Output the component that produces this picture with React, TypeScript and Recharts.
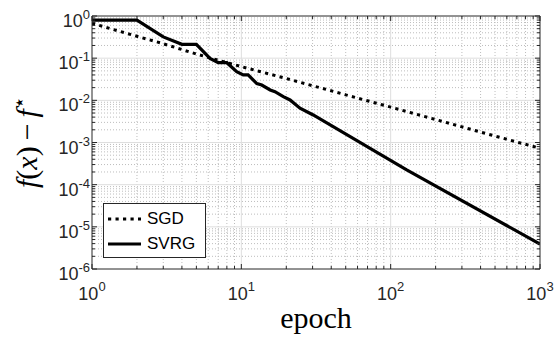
import React from 'react';
import { LineChart, Line, XAxis, YAxis, ReferenceLine } from 'recharts';

// ---- data ----
const sgdEpochs = [1, 2, 3, 5, 10, 20, 50, 100, 200, 500, 1000];
const sgdValues = [0.67, 0.33, 0.22, 0.125, 0.063, 0.033, 0.0135, 0.0069, 0.0035, 0.00142, 0.00073];

const svrgEpochs = [1, 2, 3, 4, 5, 6.17, 7, 8, 9.31, 10.3, 11.1, 12.7, 13.7, 15.6, 16.8, 19.1, 21.2, 24.7, 30.3, 128, 1000];
const svrgValues = [0.8, 0.8, 0.32, 0.213, 0.213, 0.099, 0.078, 0.078, 0.048, 0.04, 0.04, 0.025, 0.023, 0.0176, 0.016, 0.0122, 0.0102, 0.0065, 0.0045, 2.23e-4, 3.92e-6];

const xMajorTicks = [1, 10, 100, 1000];
const yMajorTicks = [1e-6, 1e-5, 1e-4, 1e-3, 1e-2, 1e-1, 1];
const minorMultipliers = [2, 3, 4, 5, 6, 7, 8, 9];

const seriesNames = ['SGD', 'SVRG'];

const xMinorTicks = xMajorTicks.slice(0, -1).flatMap((d) => minorMultipliers.map((m) => m * d));
const yMinorTicks = yMajorTicks.slice(0, -1).flatMap((d) => minorMultipliers.map((m) => m * d));
const xAllTicks = [...xMajorTicks, ...xMinorTicks].sort((a, b) => a - b);
const yAllTicks = [...yMajorTicks, ...yMinorTicks].sort((a, b) => a - b);

const sgdData = sgdEpochs.map((x, i) => ({ x, y: sgdValues[i] }));
const svrgData = svrgEpochs.map((x, i) => ({ x, y: svrgValues[i] }));

const AXIS = '#262626';
const SANS = '"Liberation Sans", Arial, Helvetica, sans-serif';
const SERIF = '"Liberation Serif", "Times New Roman", serif';

const isMajor = (v: number) => Math.abs(Math.log10(v) - Math.round(Math.log10(v))) < 1e-9;
const expOf = (v: number) => String(Math.round(Math.log10(v)));

const BottomTick = (props: any) => {
  const { x, y, payload } = props;
  const v = payload.value;
  const major = isMajor(v);
  return (
    <g>
      <line x1={x} x2={x} y1={y} y2={y - (major ? 5 : 3)} stroke={AXIS} strokeWidth={1} />
      {major && (
        <text x={x} y={y + 31} textAnchor="middle" fontFamily={SANS} fontSize={18} fill={AXIS}>
          <tspan>10</tspan>
          <tspan dy={-9} fontSize={13}>{expOf(v)}</tspan>
        </text>
      )}
    </g>
  );
};

const TopTick = (props: any) => {
  const { x, y, payload } = props;
  const major = isMajor(payload.value);
  return <line x1={x} x2={x} y1={y} y2={y + (major ? 5 : 3)} stroke={AXIS} strokeWidth={1} />;
};

const LeftTick = (props: any) => {
  const { x, y, payload } = props;
  const v = payload.value;
  const major = isMajor(v);
  return (
    <g>
      <line x1={x} x2={x + (major ? 5 : 3)} y1={y} y2={y} stroke={AXIS} strokeWidth={1} />
      {major && (
        <text x={x - 2} y={y + 11} textAnchor="end" fontFamily={SANS} fontSize={18} fill={AXIS}>
          <tspan>10</tspan>
          <tspan dy={-8} fontSize={13}>{expOf(v)}</tspan>
        </text>
      )}
    </g>
  );
};

const RightTick = (props: any) => {
  const { x, y, payload } = props;
  const major = isMajor(payload.value);
  return <line x1={x} x2={x - (major ? 5 : 3)} y1={y} y2={y} stroke={AXIS} strokeWidth={1} />;
};

export default function App() {
  return (
    <div style={{ position: 'absolute', left: 0, top: 0, width: 558, height: 339, background: '#fff' }}>
      <LineChart width={558} height={339} margin={{ top: 8, right: 10, bottom: 40, left: 32 }}>
        <XAxis
          xAxisId="b"
          dataKey="x"
          type="number"
          scale="log"
          domain={[1, 1000]}
          ticks={xAllTicks}
          interval={0}
          tick={<BottomTick />}
          tickLine={false}
          tickSize={0}
          tickMargin={0}
          height={30}
          axisLine={{ stroke: AXIS, strokeWidth: 1 }}
          allowDataOverflow
        />
        <XAxis
          xAxisId="t"
          orientation="top"
          dataKey="x"
          type="number"
          scale="log"
          domain={[1, 1000]}
          ticks={xAllTicks}
          interval={0}
          tick={<TopTick />}
          tickLine={false}
          tickSize={0}
          tickMargin={0}
          height={8}
          axisLine={{ stroke: AXIS, strokeWidth: 1 }}
          allowDataOverflow
        />
        <YAxis
          yAxisId="l"
          type="number"
          scale="log"
          domain={[1e-6, 1]}
          ticks={yAllTicks}
          interval={0}
          tick={<LeftTick />}
          tickLine={false}
          tickSize={0}
          tickMargin={0}
          width={60}
          axisLine={{ stroke: AXIS, strokeWidth: 1 }}
          allowDataOverflow
        />
        <YAxis
          yAxisId="r"
          orientation="right"
          type="number"
          scale="log"
          domain={[1e-6, 1]}
          ticks={yAllTicks}
          interval={0}
          tick={<RightTick />}
          tickLine={false}
          tickSize={0}
          tickMargin={0}
          width={8}
          axisLine={{ stroke: AXIS, strokeWidth: 1 }}
          allowDataOverflow
        />
        {xMinorTicks.map((v) => (
          <ReferenceLine key={'xm' + v} x={v} xAxisId="b" yAxisId="l" stroke="#bdbdbd" strokeDasharray="1 2" strokeWidth={1} />
        ))}
        {yMinorTicks.map((v) => (
          <ReferenceLine key={'ym' + v} y={v} xAxisId="b" yAxisId="l" stroke="#bdbdbd" strokeDasharray="1 2" strokeWidth={1} />
        ))}
        {xMajorTicks.slice(1, -1).map((v) => (
          <ReferenceLine key={'xM' + v} x={v} xAxisId="b" yAxisId="l" stroke="#dedede" strokeWidth={1} />
        ))}
        {yMajorTicks.slice(1, -1).map((v) => (
          <ReferenceLine key={'yM' + v} y={v} xAxisId="b" yAxisId="l" stroke="#dedede" strokeWidth={1} />
        ))}
        <Line
          xAxisId="b"
          yAxisId="l"
          data={sgdData}
          dataKey="y"
          name={seriesNames[0]}
          type="linear"
          stroke="#000"
          strokeWidth={3}
          strokeDasharray="3.2 4.3"
          dot={false}
          isAnimationActive={false}
        />
        <Line
          xAxisId="b"
          yAxisId="l"
          data={svrgData}
          dataKey="y"
          name={seriesNames[1]}
          type="linear"
          stroke="#000"
          strokeWidth={3.2}
          dot={false}
          isAnimationActive={false}
        />
      </LineChart>

      {/* legend */}
      <div
        style={{
          position: 'absolute',
          left: 103,
          top: 203,
          width: 101,
          height: 53,
          border: `1px solid ${AXIS}`,
          background: '#fff',
          fontFamily: SANS,
          fontSize: 17,
          color: '#000',
        }}
      >
        {seriesNames.map((name, i) => (
          <div key={name} style={{ position: 'absolute', left: 4, top: 4 + i * 25, height: 22, display: 'flex', alignItems: 'center' }}>
            <svg width={34} height={6} style={{ display: 'block' }}>
              <line
                x1={0}
                x2={33}
                y1={3}
                y2={3}
                stroke="#000"
                strokeWidth={3}
                strokeDasharray={i === 0 ? '3.2 4.3' : undefined}
              />
            </svg>
            <span style={{ marginLeft: 5, lineHeight: '22px' }}>{name}</span>
          </div>
        ))}
      </div>

      {/* y label */}
      <div
        style={{
          position: 'absolute',
          left: 27,
          top: 142,
          transform: 'translate(-50%, -50%) rotate(-90deg)',
          whiteSpace: 'nowrap',
          fontFamily: SERIF,
          fontSize: 30,
          lineHeight: '30px',
          color: '#000',
        }}
      >
        <i>f</i>
        <span>(</span>
        <i>x</i>
        <span>)</span>
        <span style={{ margin: '0 6px' }}>−</span>
        <i>f</i>
        <sup style={{ fontSize: 20, verticalAlign: 'super', lineHeight: 0 }}>⋆</sup>
      </div>

      {/* x label */}
      <div
        style={{
          position: 'absolute',
          left: 316,
          top: 303,
          transform: 'translateX(-50%)',
          whiteSpace: 'nowrap',
          fontFamily: SERIF,
          fontSize: 30,
          lineHeight: '30px',
          color: '#000',
        }}
      >
        epoch
      </div>
    </div>
  );
}
